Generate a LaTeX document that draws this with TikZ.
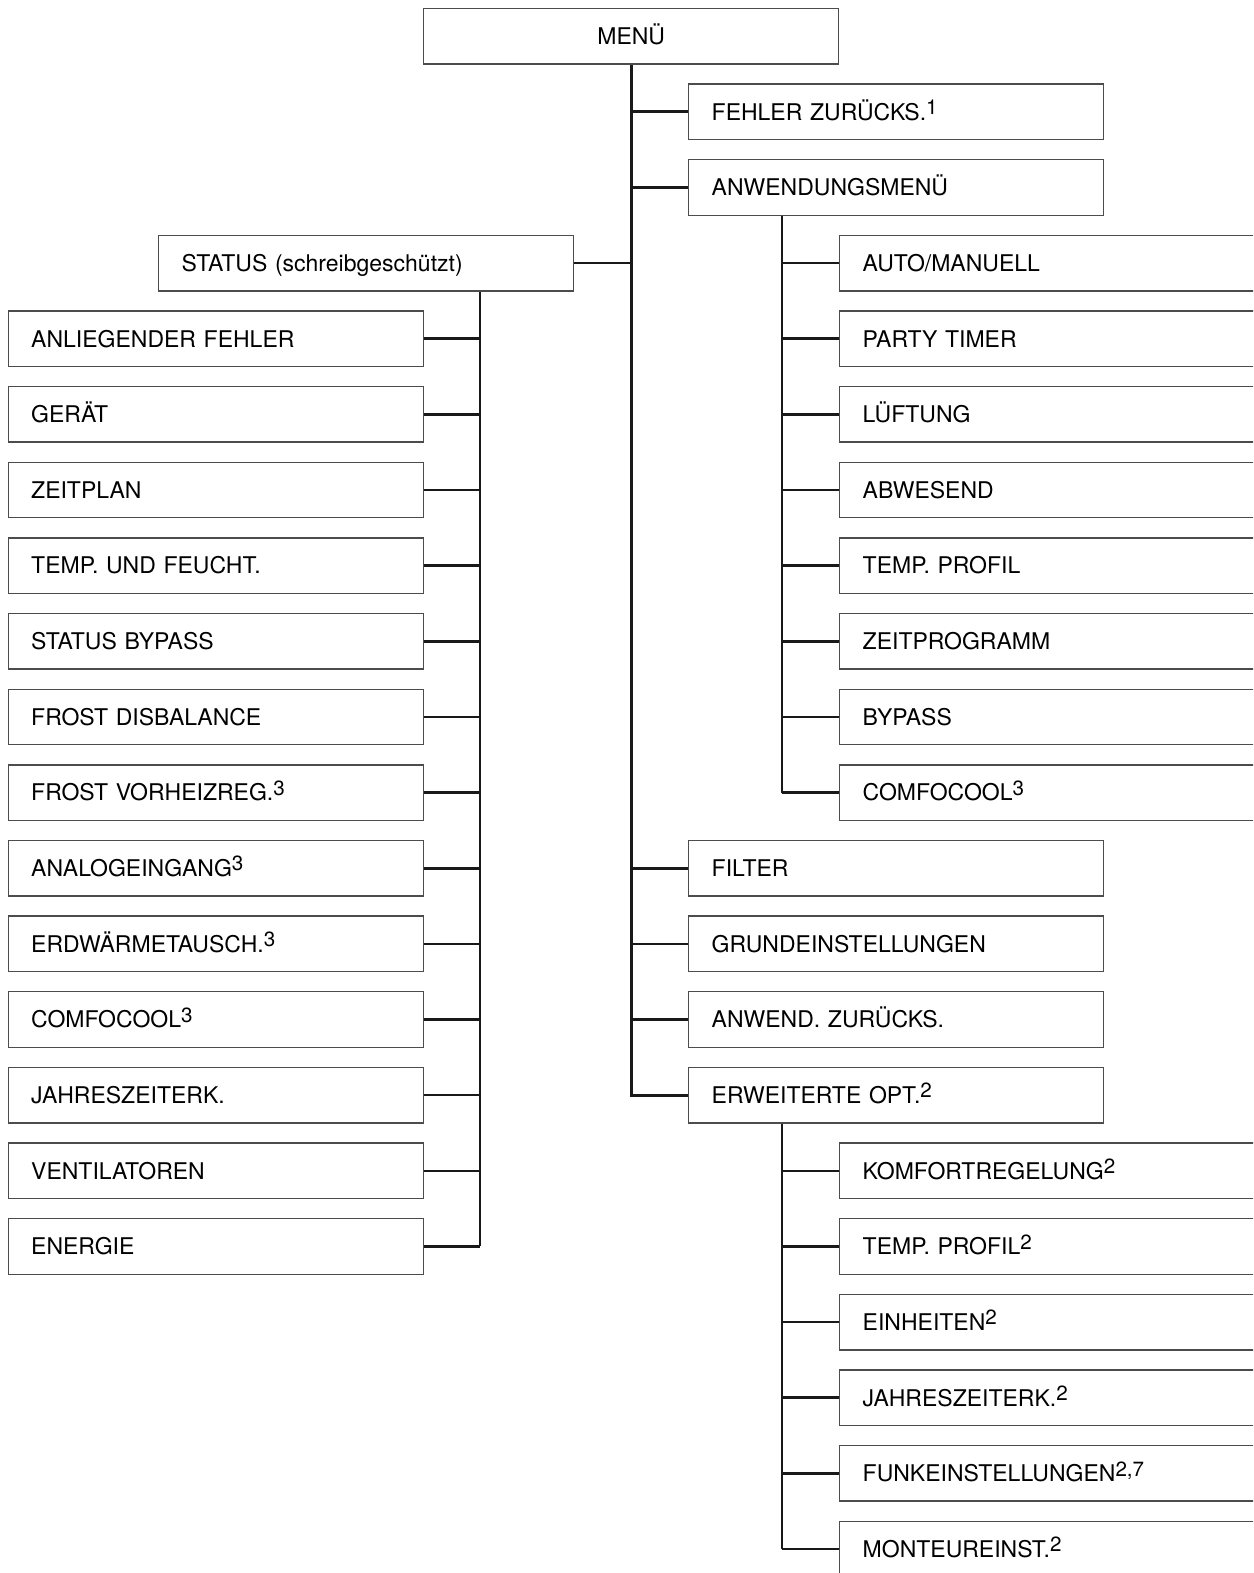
\documentclass[tikz,border=0pt]{standalone}
\usepackage{fontspec}
\setmainfont{TeX Gyre Heros}
\definecolor{BoxClr}{rgb}{0.3,0.3,0.3}
\definecolor{LineClr}{rgb}{0.1,0.1,0.1}
\newcommand\MenuFont{\fontsize{11.5}{14}\selectfont}
\newcommand\fn[1]{\raisebox{2.8pt}{\fontsize{10.3}{11}\selectfont #1}}

\begin{document}
\begin{tikzpicture}[x=.5pt,y=-.5pt,
  box/.style={draw=BoxClr,line width=.7pt,anchor=west,minimum height=27.75pt,
    inner xsep=11.5pt,inner ysep=0pt,text height=8.3pt,text depth=0pt,
    text width=#1,align=left,font=\MenuFont},
  box/.default=184.5pt,
  conn/.style={draw=LineClr,line width=1.3pt}]
\useasboundingbox (0,0) rectangle (1253,1573);
\clip (0,0) rectangle (1253,1573);

\node[box,align=center] (menu) at (423,36.2) {MENÜ};
\node[box] (fehler) at (688,111.8) {FEHLER ZURÜCKS.\fn{1}};
\node[box] (anw) at (688,187.5) {ANWENDUNGSMENÜ};
\node[box] (status) at (158,263.1) {STATUS (schreibgeschützt)};
\node[box] (filter) at (688,868.2) {FILTER};
\node[box] (grund) at (688,943.9) {GRUNDEINSTELLUNGEN};
\node[box] (anwz) at (688,1019.5) {ANWEND. ZURÜCKS.};
\node[box] (erw) at (688,1095.2) {ERWEITERTE OPT.\fn{2}};

\coordinate (anwT) at ([xshift=47pt]anw.south west);
\coordinate (erwT) at ([xshift=47pt]erw.south west);
\coordinate (stT) at ([xshift=161pt]status.south west);

\draw[conn] (menu.south) -- (menu.south |- erw.west) -- (erw.west);
\foreach \n in {fehler,anw,filter,grund,anwz}
  \draw[conn] (menu.south |- \n.west) -- (\n.west);
\draw[conn] (status.east) -- (menu.south |- status.east);

\foreach \k/\txt [count=\i] in {4/ANLIEGENDER FEHLER,5/GERÄT,6/ZEITPLAN,
    7/TEMP. UND FEUCHT.,8/STATUS BYPASS,9/FROST DISBALANCE,
    10/{FROST VORHEIZREG.\fn{3}},11/{ANALOGEINGANG\fn{3}},
    12/{ERDWÄRMETAUSCH.\fn{3}},13/{COMFOCOOL\fn{3}},14/JAHRESZEITERK.,
    15/VENTILATOREN,16/ENERGIE}{
  \node[box] (st\i) at (7.5,{36.2+75.64*\k}) {\txt};
  \draw[conn] (st\i.east) -- (stT |- st\i.east);
}
\draw[conn] (stT) -- (stT |- st13.east);

\foreach \k/\txt [count=\i] in {3/{AUTO/MANUELL},4/PARTY TIMER,5/LÜFTUNG,
    6/ABWESEND,7/TEMP. PROFIL,8/ZEITPROGRAMM,9/BYPASS,10/{COMFOCOOL\fn{3}}}{
  \node[box=225pt] (a\i) at (839,{36.2+75.64*\k}) {\txt};
  \draw[conn] (anwT |- a\i.west) -- (a\i.west);
}
\draw[conn] (anwT) -- (anwT |- a8.west);

\foreach \k/\txt [count=\i] in {15/{KOMFORTREGELUNG\fn{2}},16/{TEMP. PROFIL\fn{2}},
    17/{EINHEITEN\fn{2}},18/{JAHRESZEITERK.\fn{2}},
    19/{FUNKEINSTELLUNGEN\fn{2,7}},20/{MONTEUREINST.\fn{2}}}{
  \node[box=225pt] (e\i) at (839,{36.2+75.64*\k}) {\txt};
  \draw[conn] (erwT |- e\i.west) -- (e\i.west);
}
\draw[conn] (erwT) -- (erwT |- e6.west);

\end{tikzpicture}
\end{document}
